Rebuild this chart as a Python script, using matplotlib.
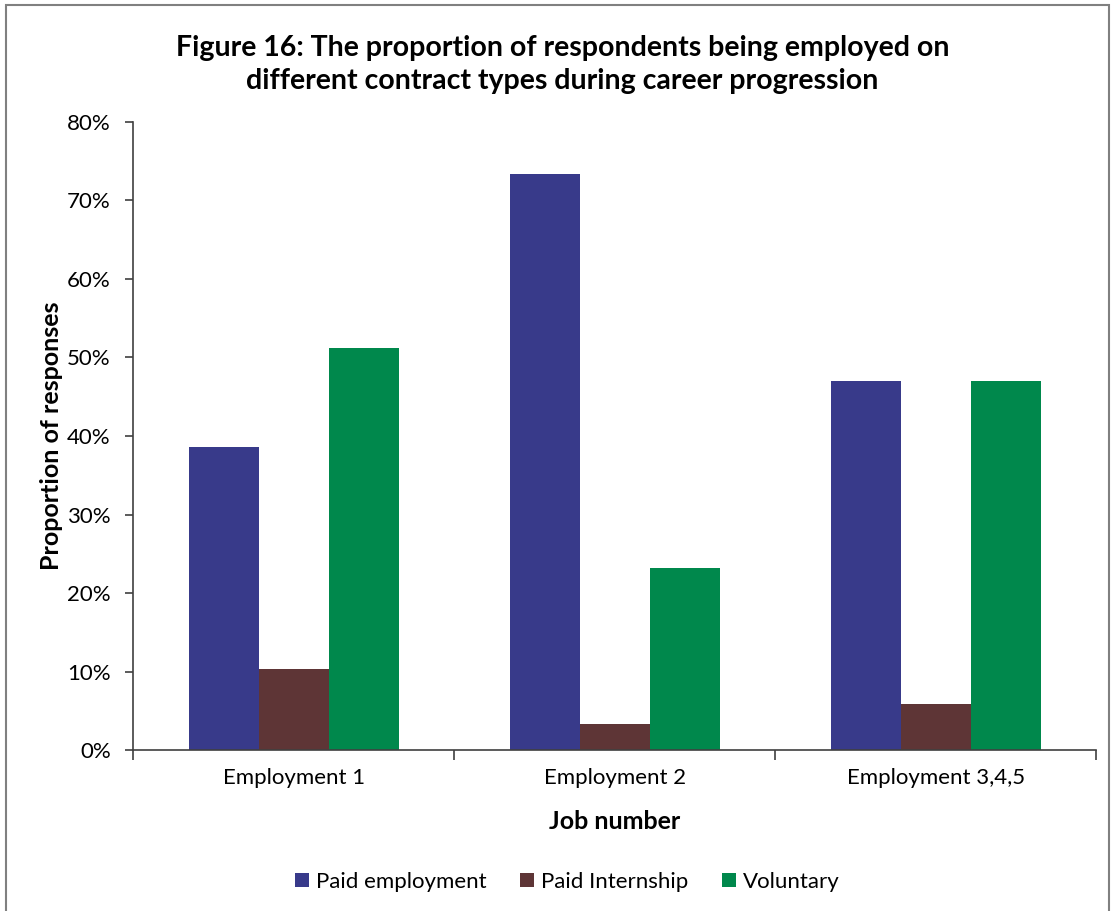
import matplotlib
matplotlib.use("Agg")
import matplotlib.pyplot as plt
import numpy as np
from matplotlib.patches import Rectangle
from matplotlib.ticker import PercentFormatter

plt.rcParams['font.family'] = ['Lato', 'DejaVu Sans']

# data
categories = ['Employment 1', 'Employment 2', 'Employment 3,4,5']
series = ['Paid employment', 'Paid Internship', 'Voluntary']
paid_employment = [38.6, 73.4, 47.0]
paid_internship = [10.3, 3.3, 5.9]
voluntary = [51.2, 23.2, 47.0]
colors = ['#383A8A', '#5E3536', '#00884C']

fig = plt.figure(figsize=(11.12, 9.11), dpi=100)
ax = fig.add_axes([0.1196, 0.1767, 0.8664, 0.6894])

x = np.arange(len(categories))
w = 0.218
for i, (vals, name) in enumerate(zip([paid_employment, paid_internship, voluntary], series)):
    ax.bar(x + (i - 1) * w, vals, width=w, color=colors[i], label=name, zorder=2)

ax.set_xlim(-0.5, 2.5)
ax.set_ylim(0, 80)
ax.set_yticks(np.arange(0, 81, 10))
ax.yaxis.set_major_formatter(PercentFormatter(decimals=0))
ax.set_xticks([-0.5, 0.5, 1.5, 2.5])
ax.set_xticklabels([])
ax.set_xticks(x, minor=True)
ax.set_xticklabels(categories, minor=True)
ax.tick_params(axis='x', which='minor', length=0, pad=13, labelsize=16)
ax.tick_params(axis='x', which='major', length=7, color='#404040', width=1.2, direction='out')
ax.tick_params(axis='y', length=6, color='#404040', width=1.2, labelsize=16, pad=10)

for s in ['top', 'right']:
    ax.spines[s].set_visible(False)
for s in ['left', 'bottom']:
    ax.spines[s].set_color('#404040')
    ax.spines[s].set_linewidth(1.2)

ax.set_xlabel('Job number', fontsize=18, fontweight='bold', labelpad=16)
ax.set_ylabel('Proportion of responses', fontsize=18, fontweight='bold', labelpad=3)

fig.text(0.506, 0.962, 'Figure 16: The proportion of respondents being employed on\ndifferent contract types during career progression',
         ha='center', va='top', fontsize=20.5, fontweight='bold', linespacing=1.35)

leg = fig.legend(loc='center', bbox_to_anchor=(0.51, 0.032), ncol=3, frameon=False,
                 fontsize=16, handlelength=0.65, handleheight=0.65, handletextpad=0.3, columnspacing=1.5)

fig.patches.append(Rectangle((0.005, -0.01), 0.992, 1.005, transform=fig.transFigure,
                             fill=False, edgecolor='#808080', linewidth=1.5))

fig.savefig('out.png', dpi=100)
